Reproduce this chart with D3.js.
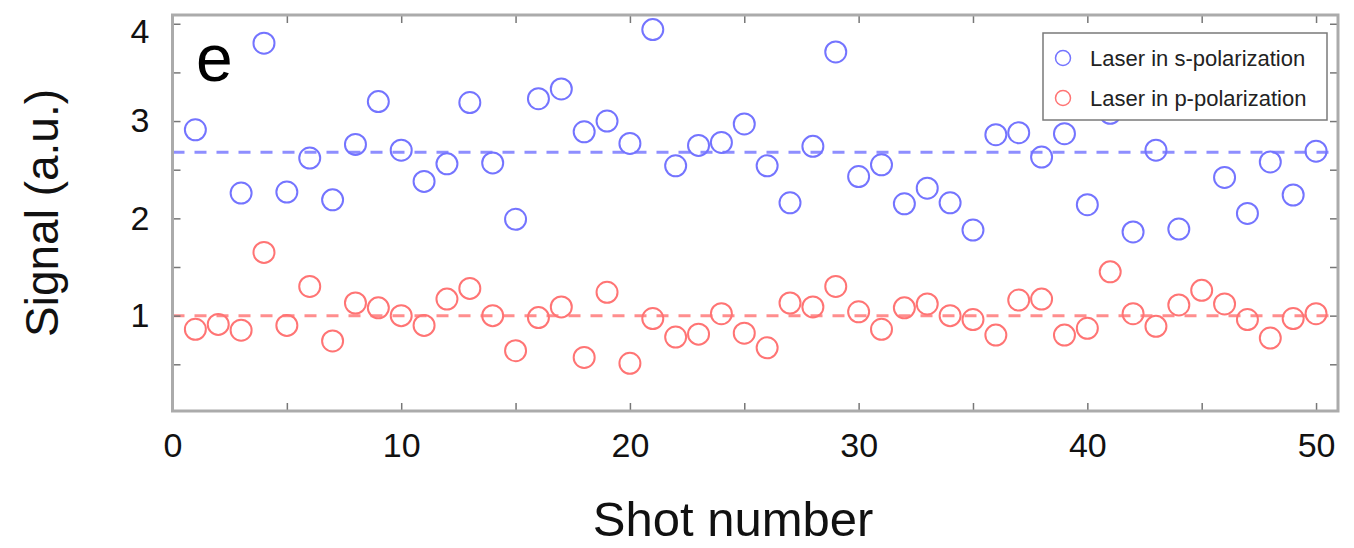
<!DOCTYPE html>
<html>
<head>
<meta charset="utf-8">
<script src="https://cdn.jsdelivr.net/npm/d3@7"></script>
<style>
  html, body { margin: 0; padding: 0; background: #fff; }
  svg { display: block; font-family: "Liberation Sans", Arial, Helvetica, sans-serif; }
</style>
</head>
<body>
<svg id="chart" width="1354" height="548"></svg>
<script>
// Shot-by-shot signal for the two laser polarizations (null = no recorded shot)
const shots = d3.range(1, 51);
const sPolarization = [
  2.91, null, 2.26, 3.80, 2.27, 2.62, 2.19, 2.76, 3.20, 2.70,
  2.38, 2.56, 3.19, 2.57, 1.99, 3.23, 3.33, 2.89, 3.00, 2.77,
  3.94, 2.54, 2.75, 2.78, 2.97, 2.54, 2.16, 2.74, 3.71, 2.43,
  2.55, 2.15, 2.31, 2.16, 1.88, 2.86, 2.88, 2.63, 2.87, 2.14,
  3.08, 1.86, 2.70, 1.89, 3.34, 2.42, 2.05, 2.58, 2.24, 2.69
];
const pPolarization = [
  0.86, 0.91, 0.85, 1.65, 0.90, 1.30, 0.74, 1.13, 1.08, 1.00,
  0.90, 1.17, 1.28, 1.00, 0.64, 0.98, 1.09, 0.57, 1.24, 0.51,
  0.97, 0.78, 0.81, 1.02, 0.82, 0.67, 1.13, 1.09, 1.30, 1.04,
  0.86, 1.08, 1.12, 1.00, 0.96, 0.80, 1.16, 1.17, 0.80, 0.87,
  1.45, 1.02, 0.89, 1.11, 1.26, 1.12, 0.96, 0.77, 0.97, 1.02
];
// Average levels drawn as dashed guides
const meanLevels = [2.68, 1.00];
const seriesNames = ["Laser in s-polarization", "Laser in p-polarization"];
const seriesColors = ["#7474ff", "#ff7474"];
const meanColors = ["#8e8eff", "#ff8e8e"];
const xTickValues = d3.range(0, 51, 5);
const xTickLabels = [0, 10, 20, 30, 40, 50];
const yTickValues = [0.5, 1, 1.5, 2, 2.5, 3, 3.5, 4];
const yTickLabels = [1, 2, 3, 4];

const svg = d3.select("#chart");
const plot = { left: 172.5, right: 1338, top: 15, bottom: 411 };

const x = d3.scaleLinear().domain([0, 50.96]).range([plot.left, plot.right]);
const y = d3.scaleLinear().domain([0.02, 4.09]).range([plot.bottom, plot.top]);

// Dashed mean lines
svg.append("g").selectAll("line").data(meanLevels).join("line")
  .attr("x1", x.range()[0]).attr("x2", x.range()[1])
  .attr("y1", d => y(d)).attr("y2", d => y(d))
  .attr("stroke", (d, i) => meanColors[i])
  .attr("stroke-width", 3)
  .attr("stroke-dasharray", "12,10");

// Open-circle markers
[sPolarization, pPolarization].forEach((vals, i) => {
  const pts = shots.map((s, k) => ({ s, v: vals[k] })).filter(d => d.v != null);
  svg.append("g").selectAll("circle").data(pts).join("circle")
    .attr("cx", d => x(d.s))
    .attr("cy", d => y(d.v))
    .attr("r", 10.5)
    .attr("fill", "none")
    .attr("stroke", seriesColors[i])
    .attr("stroke-width", 2);
});

// Axes with inward ticks on all four sides
const fmtX = d => xTickLabels.includes(d) ? d : "";
const fmtY = d => yTickLabels.includes(d) ? d : "";

const axB = svg.append("g").attr("transform", `translate(0,${plot.bottom})`)
  .call(d3.axisBottom(x).tickValues(xTickValues).tickFormat(fmtX)
    .tickSizeInner(-8).tickSizeOuter(0).tickPadding(22));
const axT = svg.append("g").attr("transform", `translate(0,${plot.top})`)
  .call(d3.axisTop(x).tickValues(xTickValues).tickFormat("")
    .tickSizeInner(-8).tickSizeOuter(0));
const axL = svg.append("g").attr("transform", `translate(${plot.left},0)`)
  .call(d3.axisLeft(y).tickValues(yTickValues).tickFormat(fmtY)
    .tickSizeInner(-8).tickSizeOuter(0).tickPadding(23));
const axR = svg.append("g").attr("transform", `translate(${plot.right},0)`)
  .call(d3.axisRight(y).tickValues(yTickValues).tickFormat("")
    .tickSizeInner(-8).tickSizeOuter(0));

[axB, axT, axL, axR].forEach(g => {
  g.select(".domain").remove();
  g.selectAll(".tick line").attr("stroke", "#777").attr("stroke-width", 1.5);
  g.selectAll(".tick text")
    .attr("font-family", "Liberation Sans, Arial, sans-serif")
    .attr("font-size", 34).attr("fill", "#111");
});
// keep the topmost y label inside the frame height
axL.selectAll(".tick text").filter(d => d === 4).attr("dy", "0.55em");

// Plot frame
svg.append("rect")
  .attr("x", plot.left).attr("y", plot.top)
  .attr("width", plot.right - plot.left).attr("height", plot.bottom - plot.top)
  .attr("fill", "none").attr("stroke", "#ababab").attr("stroke-width", 3);

// Panel letter
svg.append("text").attr("x", 196).attr("y", 81)
  .attr("font-size", 66).attr("fill", "#000").text("e");

// Legend
const lg = svg.append("g").attr("transform", "translate(1043,33)");
lg.append("rect").attr("width", 284).attr("height", 87)
  .attr("fill", "#fff").attr("stroke", "#7a7a7a").attr("stroke-width", 1.5);
seriesNames.forEach((name, i) => {
  const row = lg.append("g").attr("transform", `translate(0,${25 + i * 40})`);
  row.append("circle").attr("cx", 20).attr("cy", 0).attr("r", 7.5)
    .attr("fill", "none").attr("stroke", seriesColors[i]).attr("stroke-width", 1.5);
  row.append("text").attr("x", 47).attr("y", 0).attr("dy", "0.35em")
    .attr("font-size", 22).attr("fill", "#222").text(name);
});

// Axis titles
svg.append("text").attr("x", 733).attr("y", 536)
  .attr("text-anchor", "middle").attr("font-size", 49).attr("fill", "#111")
  .text("Shot number");
svg.append("text")
  .attr("transform", "translate(58,213) rotate(-90)")
  .attr("text-anchor", "middle").attr("font-size", 46).attr("fill", "#111")
  .text("Signal (a.u.)");
</script>
</body>
</html>
